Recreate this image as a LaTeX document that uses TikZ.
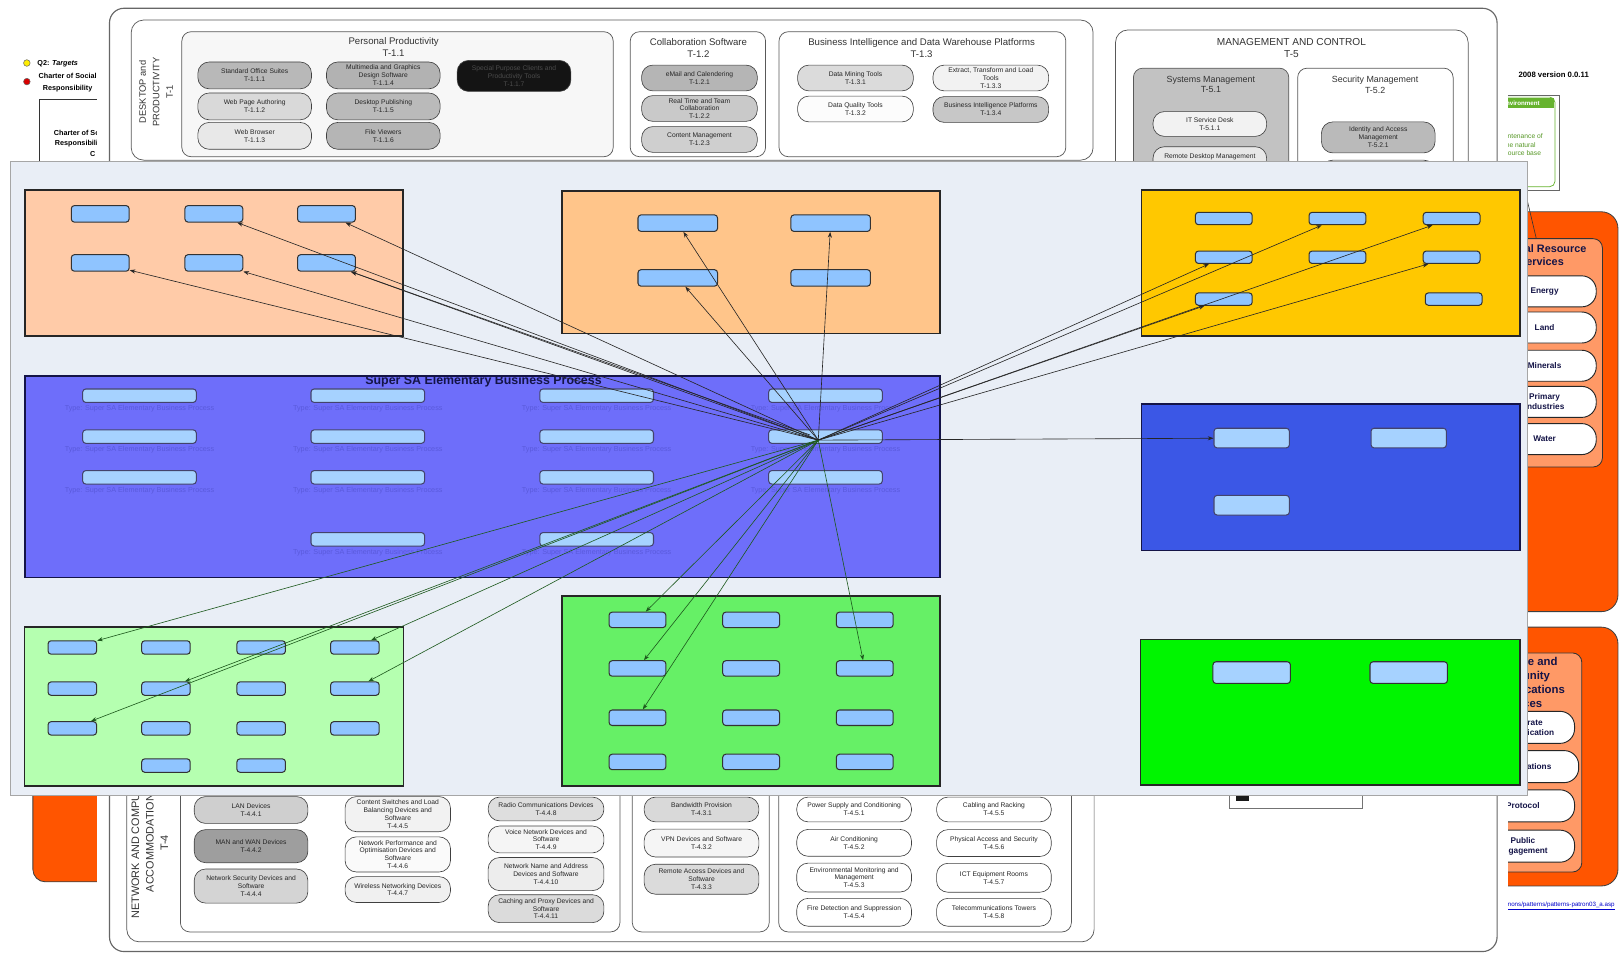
\documentclass[tikz,border=0pt]{standalone}
\usepackage{fontspec}
\setmainfont{Liberation Sans}
\usetikzlibrary{positioning,arrows.meta}

\definecolor{ovbg}{HTML}{E9EEF6}
\definecolor{peach}{HTML}{FFCBA8}
\definecolor{tanor}{HTML}{FFC58A}
\definecolor{amber}{HTML}{FFC800}
\definecolor{purp}{HTML}{6E6EFA}
\definecolor{royal}{HTML}{3B57E6}
\definecolor{mint}{HTML}{B5FFB0}
\definecolor{lime}{HTML}{66F066}
\definecolor{neon}{HTML}{00F500}
\definecolor{nodeblue}{HTML}{8FC4FF}
\definecolor{nodepale}{HTML}{A6D2FF}
\definecolor{captpurple}{HTML}{5A5ADC}
\definecolor{arrowgreen}{HTML}{1E5A1E}
\definecolor{rust}{HTML}{FF5500}
\definecolor{salmon}{HTML}{FF9966}
\definecolor{navytxt}{HTML}{141447}
\definecolor{envgreen}{HTML}{66B32E}

\newcommand{\txtsize}[2]{\fontsize{#1}{#2}\selectfont}

\begin{document}
\begin{tikzpicture}[x=1pt,y=-1pt,
  pill/.style={draw=black!75, line width=0.6pt, rounded corners=11pt, minimum width=110pt, minimum height=26pt, inner sep=0.5pt, align=center, text=black!85, font=\txtsize{6.5}{7.6}},
  grp/.style={draw=black!65, line width=0.7pt, rounded corners=12pt},
  ttl/.style={align=center, text=black!80, font=\txtsize{9.3}{11.5}},
  lane/.style={draw=black!85, line width=1.5pt},
  elem/.style={draw=black!80, fill=nodeblue, line width=1pt, rounded corners=3pt, inner sep=0pt},
  capt/.style={font=\txtsize{7}{7.5}, text=captpurple, inner sep=0pt},
  rel/.style={draw=black!85, line width=0.6pt, -{Stealth[length=5.5pt,width=4pt]}},
  relg/.style={rel, draw=arrowgreen},
  svc/.style={draw=black!85, fill=white, line width=0.9pt, rounded corners=14pt, minimum height=30pt, minimum width=100pt, align=center, font=\bfseries\txtsize{8}{9.5}, text=navytxt},
  svctitle/.style={align=center, font=\bfseries\txtsize{10.5}{12.9}, text=navytxt},
  side/.style={anchor=west, inner sep=0pt, font=\bfseries\txtsize{7}{8.5}}
]
% page and size
\fill[white] (0,0) rectangle (1568,925);
\useasboundingbox (0,0) rectangle (1568,925);

% slide bits on the left
\filldraw[fill=yellow!95!orange, draw=black!60, line width=0.5pt] (26,61) circle (3.2);
\node[side] (q2) at (36,62) {Q2: \textit{Targets}};
\filldraw[fill=red!85!black, draw=black!60, line width=0.5pt] (26,79) circle (3.2);
\node[side, align=center, font=\bfseries\txtsize{7}{12}] (csr) at (37.3,80) {Charter of Social\\Responsibility};
\draw[black!80, line width=0.6pt] (38.3,400) |- (200,96);
\node[side] (ch1) at (52,129) {Charter of Social};
\node[side] (ch2) at (53,139) {Responsibility};
\node[side] (ch3) at (87,149) {C};
\draw[fill=rust, draw=black!75, line width=0.8pt, rounded corners=12pt] (31.8,500) rectangle (300,853.5);

% slide bits on the right
\draw[fill=rust, draw=black!75, line width=0.8pt, rounded corners=16pt] (1380,205) rectangle (1566,592);
\draw[fill=salmon, draw=black!80, line width=0.8pt, rounded corners=9pt] (1400,231) rectangle (1551,452);
\node[svctitle] (nrs) at (1492,247) {Natural Resource\\Services};
\node[svc] (energy) at (1495,282) {Energy};
\node[svc] (land) at (1495,317) {Land};
\node[svc] (minerals) at (1495,354) {Minerals};
\node[svc] (primary) at (1495,389) {Primary\\Industries};
\node[svc] (water) at (1495,425) {Water};

\draw[fill=rust, draw=black!75, line width=0.8pt, rounded corners=16pt] (1380,607) rectangle (1566,857.5);
\draw[fill=salmon, draw=black!80, line width=0.8pt, rounded corners=9pt] (1400,632) rectangle (1531,844);
\node[svctitle, font=\bfseries\txtsize{11}{13.4}] (ccs) at (1470,660.7) {Corporate and\\Community\\Communications\\Services};
\node[svc, minimum height=31pt] (corpcom) at (1474,704) {Corporate\\Communication};
\node[svc, minimum height=31pt] (transl) at (1478,742) {Translations};
\node[svc, minimum height=31pt] (protocol) at (1474,780) {Protocol};
\node[svc, minimum height=31pt] (pubeng) at (1474,819) {Public\\Engagement};

% environment note
\draw[black!60, fill=white, line width=0.6pt] (1400,92) rectangle (1509,184.6);
\draw[envgreen, fill=white, line width=0.7pt, rounded corners=5pt] (1410,94) rectangle (1505,180.7);
\fill[envgreen] (1411,95) rectangle (1504,104.5);
\node[font=\bfseries\txtsize{6}{7}, text=white, inner sep=0pt] (envhead) at (1472,99.5) {Environment};
\node[align=center, font=\txtsize{6.5}{7.8}, text=envgreen!85!black, inner sep=0pt] (envtext) at (1471,140) {Maintenance of\\the natural\\resource base};
\draw[black!80, line width=0.6pt] (1476,184.6) -- (1487,231);
\node[anchor=east, inner sep=0pt, font=\bfseries\txtsize{7.5}{8}] (ver) at (1538,72) {2008 version 0.0.11};
\node[anchor=east, inner sep=0pt, font=\txtsize{6}{7}, text=blue!80!black] (lnk) at (1563,877) {\underline{commons/patterns/patterns-patron03\_a.asp}};

% technical reference model sheet
\fill[white] (93.7,0) rectangle (1460,925);
\draw[grp, draw=black!60, line width=1.1pt, rounded corners=14pt] (106,8) rectangle (1449,921);

% Desktop and productivity
\draw[grp] (127,19.4) rectangle (1058,155);
\node[rotate=90, align=center, text=black!80, font=\txtsize{9}{13}] (t1) at (151,89) {DESKTOP and\\PRODUCTIVITY\\T-1};
\draw[grp, fill=black!3, rounded corners=9pt] (176,30.7) rectangle (593.5,151.7);
\node[ttl] (t11) at (381,45.5) {Personal Productivity\\T-1.1};
\node[pill, fill=black!28] (t111) at (246.5,73) {Standard Office Suites\\T-1.1.1};
\node[pill, fill=black!15] (t112) at (246.5,103) {Web Page Authoring\\T-1.1.2};
\node[pill, fill=black!9] (t113) at (246.5,131.5) {Web Browser\\T-1.1.3};
\node[pill, fill=black!30] (t114) at (371,73) {Multimedia and Graphics\\Design Software\\T-1.1.4};
\node[pill, fill=black!27] (t115) at (371,103) {Desktop Publishing\\T-1.1.5};
\node[pill, fill=black!29] (t116) at (371,131.5) {File Viewers\\T-1.1.6};
\node[pill, fill=black!92, text=black!70, minimum height=30pt] (t117) at (497.5,73.5) {Special Purpose Clients and\\Productivity Tools\\T-1.1.7};

\draw[grp, rounded corners=9pt] (610,30.7) rectangle (741,151.7);
\node[ttl] (t12) at (676,46.5) {Collaboration Software\\T-1.2};
\node[pill, fill=black!29, minimum width=112pt, minimum height=25pt] (t121) at (677,75.5) {eMail and Calendering\\T-1.2.1};
\node[pill, fill=black!21, minimum width=112pt, minimum height=25pt] (t122) at (677,105) {Real Time and Team\\Collaboration\\T-1.2.2};
\node[pill, fill=black!19, minimum width=112pt, minimum height=25pt] (t123) at (677,135) {Content Management\\T-1.2.3};

\draw[grp, rounded corners=9pt] (754,30.7) rectangle (1031.6,151.7);
\node[ttl] (t13) at (892,46.5) {Business Intelligence and Data Warehouse Platforms\\T-1.3};
\node[pill, fill=black!14, minimum width=112pt, minimum height=25pt] (t131) at (828,75.5) {Data Mining Tools\\T-1.3.1};
\node[pill, fill=black!1, minimum width=112pt, minimum height=25pt] (t132) at (828,105.5) {Data Quality Tools\\T-1.3.2};
\node[pill, fill=black!5, minimum width=112pt, minimum height=25pt] (t133) at (959,75.5) {Extract, Transform and Load\\Tools\\T-1.3.3};
\node[pill, fill=black!22, minimum width=112pt, minimum height=25pt] (t134) at (959,106) {Business Intelligence Platforms\\T-1.3.4};

% Management and control
\draw[grp] (1079.7,29) rectangle (1421,400);
\node[ttl, font=\txtsize{9.8}{12.5}] (t5) at (1250,46.5) {MANAGEMENT AND CONTROL\\T-5};
\draw[grp, fill=black!24, rounded corners=9pt] (1097,66) rectangle (1247.4,400);
\node[ttl, font=\txtsize{8.6}{10}] (t51) at (1172,82) {Systems Management\\T-5.1};
\draw[grp, fill=white, rounded corners=9pt] (1256,66) rectangle (1406.5,400);
\node[ttl, font=\txtsize{8.6}{10}] (t52) at (1331,82) {Security Management\\T-5.2};
\node[pill, fill=black!5, minimum height=24pt] (t511) at (1171,120) {IT Service Desk\\T-5.1.1};
\node[pill, fill=black!9] (t512) at (1171,155) {Remote Desktop Management\\T-5.1.2};
\node[pill, fill=black!27, minimum height=30pt] (t521) at (1334,133) {Identity and Access\\Management\\T-5.2.1};
\node[pill, fill=black!9] (t522) at (1334,168) {};

% Network and computing accommodation
\draw[grp] (122.7,600) rectangle (1059,911.6);
\node[rotate=90, align=center, text=black!80, font=\txtsize{10.5}{14}] (t4) at (145,816) {NETWORK AND COMPUTING\\ACCOMMODATION\\T-4};
\draw[grp, rounded corners=9pt] (174.6,600) rectangle (600,902);
\node[pill, fill=black!19] (t441) at (243,784) {LAN Devices\\T-4.4.1};
\node[pill, fill=black!38, minimum height=32pt] (t442) at (243,819) {MAN and WAN Devices\\T-4.4.2};
\node[pill, fill=black!17, minimum height=33pt] (t444) at (243,857.6) {Network Security Devices and\\Software\\T-4.4.4};
\node[pill, fill=black!5, minimum width=102pt, minimum height=34pt] (t445) at (385,788) {Content Switches and Load\\Balancing Devices and\\Software\\T-4.4.5};
\node[pill, fill=black!2, minimum width=102pt, minimum height=34pt] (t446) at (385,827) {Network Performance and\\Optimisation Devices and\\Software\\T-4.4.6};
\node[pill, fill=black!6, minimum width=102pt, minimum height=25pt] (t447) at (385,861) {Wireless Networking Devices\\T-4.4.7};
\node[pill, fill=black!13, minimum width=112pt, minimum height=23pt] (t448) at (528.5,783) {Radio Communications Devices\\T-4.4.8};
\node[pill, fill=black!4, minimum width=112pt] (t449) at (528.5,812.5) {Voice Network Devices and\\Software\\T-4.4.9};
\node[pill, fill=black!7, minimum width=112pt, minimum height=32pt] (t4410) at (528.5,846) {Network Name and Address\\Devices and Software\\T-4.4.10};
\node[pill, fill=black!14, minimum width=112pt, minimum height=27pt] (t4411) at (528.5,879.5) {Caching and Proxy Devices and\\Software\\T-4.4.11};

\draw[grp, rounded corners=9pt] (612,600) rectangle (744.5,902);
\node[pill, fill=black!15, minimum width=111pt, minimum height=24pt] (t431) at (679,783.5) {Bandwidth Provision\\T-4.3.1};
\node[pill, fill=black!4, minimum width=111pt, minimum height=27pt] (t432) at (679,816) {VPN Devices and Software\\T-4.3.2};
\node[pill, fill=black!14, minimum width=111pt, minimum height=29pt] (t433) at (679,851) {Remote Access Devices and\\Software\\T-4.3.3};

\draw[grp, rounded corners=9pt] (753.7,600) rectangle (1037,902);
\node[pill, fill=white, minimum width=111pt, minimum height=24pt] (t451) at (826.7,783.5) {Power Supply and Conditioning\\T-4.5.1};
\node[pill, fill=white, minimum width=111pt] (t452) at (826.7,815.8) {Air Conditioning\\T-4.5.2};
\node[pill, fill=white, minimum width=111pt, minimum height=28pt] (t453) at (826.7,849.4) {Environmental Monitoring and\\Management\\T-4.5.3};
\node[pill, fill=white, minimum width=111pt, minimum height=27pt] (t454) at (826.7,883) {Fire Detection and Suppression\\T-4.5.4};
\node[pill, fill=white, minimum width=111pt, minimum height=24pt] (t455) at (962,783.5) {Cabling and Racking\\T-4.5.5};
\node[pill, fill=white, minimum width=111pt] (t456) at (962,816) {Physical Access and Security\\T-4.5.6};
\node[pill, fill=white, minimum width=111pt, minimum height=28pt] (t457) at (962,849.6) {ICT Equipment Rooms\\T-4.5.7};
\node[pill, fill=white, minimum width=111pt, minimum height=27pt] (t458) at (962,883) {Telecommunications Towers\\T-4.5.8};

% small legend box
\draw[black!55, fill=white, line width=0.6pt] (1190,700) rectangle (1318.5,782);
\fill[black!90] (1196,769.6) rectangle (1209,775);

% modelling tool screenshot on top
\fill[ovbg] (10,156) rectangle (1478,770);
\draw[black!35, line width=0.6pt] (10,156) rectangle (1478,770);

\draw[lane, fill=peach] (24,184) rectangle (390,325);
\draw[lane, fill=tanor] (544,185) rectangle (910,323);
\draw[lane, fill=amber] (1105,184) rectangle (1471,325);
\draw[lane, draw=navytxt, fill=purp] (24,364) rectangle (910,559);
\draw[lane, draw=navytxt, fill=royal] (1105,391) rectangle (1471,533);
\draw[lane, fill=mint] (23.5,607) rectangle (390.5,761);
\draw[lane, fill=lime] (544,577) rectangle (910,761);
\draw[lane, fill=neon] (1104,619) rectangle (1471,760);

\node[font=\bfseries\txtsize{12}{13}, text=navytxt, inner sep=0pt] (sstitle) at (468,369) {Super SA Elementary Business Process};

% elements
\foreach \x/\y/\n in {97/207/a1, 207/207/a2, 316/207/a3, 97/254.5/a4, 207/254.5/a5, 316/254.5/a6}
  \node[elem, minimum width=56pt, minimum height=16pt] (\n) at (\x,\y) {};
\foreach \x/\y/\n in {656/216/b1, 804/216/b2, 656/269/b3, 804/269/b4}
  \node[elem, minimum width=77pt, minimum height=16pt] (\n) at (\x,\y) {};
\foreach \x/\y/\n in {1184.5/211.5/c1, 1294.5/211.5/c2, 1405/211.5/c3, 1184.5/249/c4, 1294.5/249/c5, 1405/249/c6, 1184.5/289.5/c7, 1407/289.5/c8}
  \node[elem, minimum width=55pt, minimum height=12pt] (\n) at (\x,\y) {};
\foreach \x/\y/\n in {135/383/d11, 356/383/d21, 577.5/383/d31, 799/383/d41, 135/422.6/d12, 356/422.6/d22, 577.5/422.6/d32, 799/422.6/hub, 135/462/d13, 356/462/d23, 577.5/462/d33, 799/462/d43, 356/522/d24, 577.5/522/d34}
  {\node[elem, fill=nodepale, draw=navytxt!80, minimum width=110pt, minimum height=13pt] (\n) at (\x,\y) {};
   \node[capt, below=2pt of \n] {Type: Super SA Elementary Business Process};}
\foreach \x/\y/\n in {1211.5/424/e1, 1363.5/424/e2, 1211.5/489/e3}
  \node[elem, fill=nodepale, draw=navytxt!80, minimum width=73pt, minimum height=19pt] (\n) at (\x,\y) {};
\foreach \x/\y/\n in {70/626.7/f11, 160.6/626.7/f21, 252.8/626.7/f31, 343.5/626.7/f41, 70/666.5/f12, 160.6/666.5/f22, 252.8/666.5/f32, 343.5/666.5/f42, 70/705/f13, 160.6/705/f23, 252.8/705/f33, 343.5/705/f43, 160.6/741/f24, 252.8/741/f34}
  \node[elem, minimum width=47pt, minimum height=13pt] (\n) at (\x,\y) {};
\foreach \x/\y/\n in {617/600/g11, 727/600/g21, 837/600/g31, 617/647/g12, 727/647/g22, 837/647/g32, 617/694.7/g13, 727/694.7/g23, 837/694.7/g33, 617/737.5/g14, 727/737.5/g24, 837/737.5/g34}
  \node[elem, minimum width=55pt, minimum height=15pt] (\n) at (\x,\y) {};
\foreach \x/\y/\n in {1211.5/651/h1, 1363.5/651/h2}
  \node[elem, fill=nodepale, minimum width=75pt, minimum height=21pt] (\n) at (\x,\y) {};

% relations from the hub
\coordinate (hubc) at (792,426);
\coordinate (hubw) at (784,421);
\foreach \t in {a2,a3,a4,a5,a6,b1,b2,b3,c2,c3,c4,c6,c7,e1}
  \draw[rel] (hubc) -- (\t);
\draw[rel] (hubw) -- (a6);
\foreach \t in {f11,f22,f13,f41,f42,g11,g12,g13,g32}
  \draw[relg] (hubc) -- (\t);
\end{tikzpicture}
\end{document}
